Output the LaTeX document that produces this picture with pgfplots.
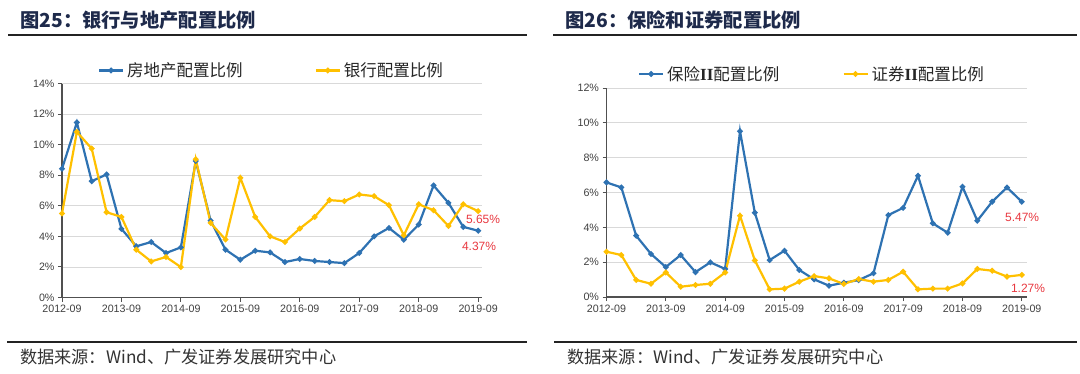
\documentclass[border=0pt]{standalone}
\usepackage{fontspec}
\usepackage{pgfplots}
\usepackage{pgfplotstable}
\pgfplotsset{compat=1.18}
\setmainfont{Liberation Sans}
\newfontfamily\cjk{Noto Sans CJK SC}
\newfontfamily\romanb{Liberation Serif}
\definecolor{cblue}{RGB}{46,114,178}
\definecolor{cyellow}{RGB}{255,192,0}
\definecolor{cgrid}{RGB}{217,217,217}
\definecolor{caxis}{RGB}{80,80,80}
\definecolor{ctick}{RGB}{64,64,64}
\definecolor{cred}{RGB}{232,56,64}
\definecolor{ctitle}{RGB}{30,42,75}
\definecolor{crule}{RGB}{35,35,35}
\definecolor{csrc}{RGB}{50,50,50}

\pgfplotstableread{
idx re bank
0 8.42 5.49
1 11.45 10.83
2 7.61 9.74
3 8.05 5.58
4 4.49 5.27
5 3.35 3.13
6 3.63 2.36
7 2.91 2.65
8 3.28 1.99
9 8.93 9.04
10 5.03 4.88
11 3.13 3.79
12 2.47 7.83
13 3.06 5.27
14 2.95 4.00
15 2.32 3.63
16 2.52 4.51
17 2.39 5.27
18 2.32 6.37
19 2.25 6.30
20 2.91 6.74
21 4.00 6.63
22 4.55 6.04
23 3.78 4.07
24 4.77 6.10
25 7.33 5.71
26 6.19 4.68
27 4.62 6.10
28 4.37 5.65
}\tabA

\pgfplotstableread{
idx ins sec
0 6.58 2.60
1 6.29 2.41
2 3.52 0.98
3 2.47 0.76
4 1.72 1.41
5 2.41 0.59
6 1.43 0.69
7 1.99 0.76
8 1.61 1.41
9 9.52 4.67
10 4.84 2.10
11 2.12 0.44
12 2.66 0.48
13 1.55 0.88
14 1.01 1.20
15 0.65 1.07
16 0.82 0.75
17 0.97 1.03
18 1.36 0.88
19 4.70 0.98
20 5.12 1.45
21 6.96 0.44
22 4.23 0.48
23 3.69 0.48
24 6.33 0.78
25 4.38 1.61
26 5.47 1.51
27 6.29 1.17
28 5.47 1.27
}\tabB

\pgfplotsset{
  myaxis/.style={
    scale only axis, anchor=south west,
    xmin=0, ymin=0,
    axis x line*=bottom, axis y line*=left,
    axis line style={-, caxis, line width=1.2pt},
    xtick={0,4,...,28},
    xticklabels={2012-09,2013-09,2014-09,2015-09,2016-09,2017-09,2018-09,2019-09},
    tick align=outside, major tick length=4pt,
    tick style={caxis, line width=1pt},
    ymajorgrids, grid style={cgrid, line width=0.8pt},
    ticklabel style={font=\fontsize{10.7}{12}\selectfont, text=ctick},
    clip=false,
    legend columns=2,
    legend style={draw=none, fill=none, inner sep=0pt, outer sep=0pt, anchor=west,
      font=\cjk\fontsize{16.5}{18}\selectfont, text={black!85},
      nodes={inner sep=0pt},
      /tikz/every odd column/.append style={column sep=3pt}},
    legend image code/.code={\draw[##1, mark repeat=2, mark phase=2] plot coordinates {(0pt,0pt) (12pt,0pt) (24pt,0pt)};},
  },
  sblue/.style={cblue, line width=2.2pt, mark=*, mark size=1.6pt, mark options={solid}},
  syellow/.style={cyellow, line width=2.2pt, mark=*, mark size=1.6pt, mark options={solid}},
}

\begin{document}
\begin{tikzpicture}
\path[use as bounding box] (0pt,0pt) rectangle (1080pt,373pt);

% titles and rules
\node[anchor=west, inner sep=0pt, text=ctitle, font=\cjk\bfseries\fontsize{19.3}{21}\selectfont] at (20pt,353pt) {图25：银行与地产配置比例};
\node[anchor=west, inner sep=0pt, text=ctitle, font=\cjk\bfseries\fontsize{19.3}{21}\selectfont] at (565pt,353pt) {图26：保险和证券配置比例};
\draw[line width=1.6pt, crule] (8pt,338pt) -- (527pt,338pt);
\draw[line width=1.6pt, crule] (553pt,338pt) -- (1077pt,338pt);
\draw[line width=1.6pt, crule] (7pt,31pt) -- (527pt,31pt);
\draw[line width=1.6pt, crule] (554pt,31pt) -- (1077pt,31pt);
\node[anchor=west, inner sep=0pt, text=csrc, font=\cjk\fontsize{17.2}{19}\selectfont] at (20pt,16pt) {数据来源：Wind、广发证券发展研究中心};
\node[anchor=west, inner sep=0pt, text=csrc, font=\cjk\fontsize{17.2}{19}\selectfont] at (567pt,16pt) {数据来源：Wind、广发证券发展研究中心};

% left chart
\begin{axis}[myaxis,
  at={(62pt,75.5pt)}, width=420pt, height=214pt,
  xmax=28.26, ymax=14,
  ytick={0,2,...,14},
  yticklabels={0\%,2\%,4\%,6\%,8\%,10\%,12\%,14\%},
  legend style={at={(0.0857,1.061)}, /tikz/every even column/.append style={column sep=72pt}},
]
\addplot[sblue] table[x=idx, y=re] {\tabA};
\addlegendentry{房地产配置比例}
\addplot[syellow] table[x=idx, y=bank] {\tabA};
\addlegendentry{银行配置比例}
\node[text=cred, font=\fontsize{12}{14}\selectfont, inner sep=0pt] at (axis cs:28.33,5.11) {5.65\%};
\node[text=cred, font=\fontsize{12}{14}\selectfont, inner sep=0pt] at (axis cs:28.06,3.37) {4.37\%};
\end{axis}

% right chart
\begin{axis}[myaxis,
  at={(606.5pt,76pt)}, width=420.5pt, height=209pt,
  xmax=28.35, ymax=12,
  ytick={0,2,...,12},
  yticklabels={0\%,2\%,4\%,6\%,8\%,10\%,12\%},
  legend style={at={(0.075,1.067)}, /tikz/every even column/.append style={column sep=63pt}},
]
\addplot[sblue] table[x=idx, y=ins] {\tabB};
\addlegendentry{保险{\romanb\bfseries\fontsize{17}{18}\selectfont II}配置比例}
\addplot[syellow] table[x=idx, y=sec] {\tabB};
\addlegendentry{证券{\romanb\bfseries\fontsize{17}{18}\selectfont II}配置比例}
\node[text=cred, font=\fontsize{12}{14}\selectfont, inner sep=0pt] at (axis cs:28.02,4.59) {5.47\%};
\node[text=cred, font=\fontsize{12}{14}\selectfont, inner sep=0pt] at (axis cs:28.42,0.52) {1.27\%};
\end{axis}
\end{tikzpicture}
\end{document}
